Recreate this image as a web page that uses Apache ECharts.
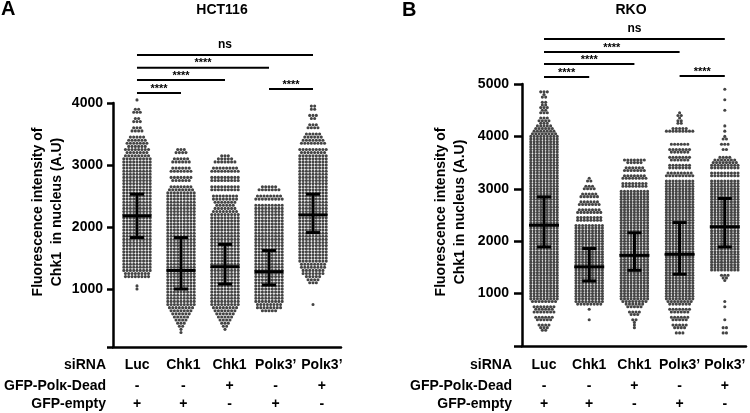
<!DOCTYPE html>
<html><head><meta charset="utf-8">
<script src="https://cdn.jsdelivr.net/npm/echarts@6/dist/echarts.min.js"></script>
<style>html,body{margin:0;padding:0;background:#fff}#c{width:750px;height:413px}</style>
</head><body><div id="c"></div>
<script>
// ---------------- DATA ----------------
const siRNA = ["Luc", "Chk1", "Chk1", "Polκ3’", "Polκ3’"];
const deadRow = ["-", "-", "+", "-", "+"];
const emptyRow = ["+", "+", "-", "+", "-"];
const rowHeaders = ["siRNA", "GFP-Polκ-Dead", "GFP-empty"];
const panelTitles = ["HCT116", "RKO"];
const panelLetters = ["A", "B"];
const yNameA = "Fluorescence intensity of\nChk1  in nucleus (A.U)";
const yNameB = "Fluorescence intensity of\nChk1 in nucleus (A.U)";
const hctTicks = [1000, 2000, 3000, 4000];
const rkoTicks = [1000, 2000, 3000, 4000, 5000];

// beeswarm rows: number of cells per 50-unit row, from the top row downwards
const binStep = 50;
const hctTopRow = 4050;   // rows 4050 ... 300
const rkoTopRow = 4900;   // rows 4900 ... 250

const hctLuc = [1,0,0,2,3,0,2,3,0,3, 4,0,5,6,7,6,8,7,8,9, 9,9,9,9,9,9,9,9,9,9, 9,9,9,9,9,9,9,9,9,9, 9,9,9,9,9,9,9,9,9,9, 9,9,9,9,9,9,8,8,0,0, 1,1,0,0,0,0,0,0,0,0, 0,0,0,0,0,0];
const hctChk1 = [0,0,0,0,0,0,0,0,0,0, 0,0,0,0,0,0,3,4,0,5, 6,0,6,7,0,7,6,0,7,8, 9,9,9,9,9,9,9,9,9,9, 9,9,9,9,9,9,9,9,9,9, 9,9,9,9,9,9,9,9,9,9, 9,9,9,9,9,9,9,8,7,6, 5,4,3,2,1,1];
const hctChk1Dead = [0,0,0,0,0,0,0,0,0,0, 0,0,0,0,0,0,0,0,3,5, 7,0,8,9,0,9,9,0,9,9, 0,8,8,7,6,7,8,9,9,9, 9,9,9,9,9,9,9,9,9,9, 9,9,9,9,9,9,9,9,9,9, 9,9,9,9,9,9,9,8,7,6, 5,4,3,2,1,0];
const hctPol = [0,0,0,0,0,0,0,0,0,0, 0,0,0,0,0,0,0,0,0,0, 0,0,0,0,0,0,0,0,5,7, 0,8,9,0,9,9,9,9,9,9, 9,9,9,9,9,9,9,9,9,9, 9,9,9,9,9,9,9,9,9,9, 9,9,9,9,9,9,8,8,5,0, 0,0,0,0,0,0];
const hctPolDead = [0,0,2,2,0,3,2,0,3,4, 0,5,6,7,8,0,9,8,9,9, 9,9,9,9,9,9,9,9,9,9, 9,9,9,9,9,9,9,9,9,9, 9,9,9,9,9,9,9,9,9,9, 9,9,9,8,8,7,7,5,4,3, 0,0,0,0,0,0,1,0,0,0, 0,0,0,0,0,0];

const rkoLuc = [0,3,1,2,0,2,2,3,2,3, 0,3,4,3,5,6,7,8,9,9, 9,9,9,9,9,9,9,9,9,9, 9,9,9,9,9,9,9,9,9,9, 9,9,9,9,9,9,9,9,9,9, 9,9,9,9,9,9,9,9,9,9, 9,9,9,9,9,9,9,9,9,9, 9,9,9,9,9,9,9,9,9,9, 9,8,0,7,6,7,0,6,5,0, 4,3,2,0];
const rkoChk1 = [0,0,0,0,0,0,0,0,0,0, 0,0,0,0,0,0,0,0,0,0, 0,0,0,0,0,0,0,0,0,0, 0,0,0,0,1,2,0,3,4,0, 5,6,0,6,7,0,7,8,0,8, 8,0,9,9,9,9,9,9,9,9, 9,9,9,9,9,9,9,9,9,9, 9,9,9,9,9,9,9,9,9,9, 9,9,8,0,1,0,0,0,1,0, 0,0,0,0];
const rkoChk1Dead = [0,0,0,0,0,0,0,0,0,0, 0,0,0,0,0,0,0,0,0,0, 0,0,0,0,0,0,0,7,5,0, 6,7,0,7,8,0,8,8,0,9, 9,9,9,9,9,9,9,9,9,9, 9,9,9,9,9,9,9,9,9,9, 9,9,9,9,9,9,9,9,9,9, 9,9,9,9,9,9,9,9,9,9, 9,8,6,5,0,4,3,0,2,1, 1,1,0,0];
const rkoPol = [0,0,0,0,0,0,0,0,0,1, 2,1,2,2,0,5,9,0,0,0, 0,6,0,7,6,0,7,6,0,7, 7,0,8,9,0,9,9,9,9,9, 9,9,9,9,9,9,9,9,9,9, 9,9,9,9,9,9,9,9,9,9, 9,9,9,9,9,9,9,9,9,9, 9,9,9,9,9,9,9,9,9,9, 9,8,7,0,7,6,0,6,5,0, 5,4,0,3];
const rkoPolDead = [1,0,0,0,1,0,0,0,1,0, 0,0,0,0,1,0,1,0,1,2, 0,3,0,2,0,0,4,7,8,9, 9,0,9,9,0,9,9,9,9,9, 9,9,9,9,9,9,9,9,9,9, 9,9,9,9,9,9,9,9,9,9, 9,9,9,9,9,9,9,9,9,9, 0,3,2,1,0,0,0,0,0,0, 0,1,0,1,0,0,0,0,1,0, 0,2,0,2];

// mean and SD range per group
const hctMean = [2180, 1300, 1360, 1280, 2195];
const hctSdHigh = [2530, 1830, 1720, 1620, 2530];
const hctSdLow = [1830, 1000, 1080, 1065, 1910];
const rkoMean = [2305, 1510, 1730, 1750, 2275];
const rkoSdHigh = [2845, 1860, 2160, 2355, 2815];
const rkoSdLow = [1890, 1240, 1445, 1370, 1890];

// significance comparisons [from group, to group, label]
const comparisons = [[0,1,"****"],[0,2,"****"],[0,3,"****"],[0,4,"ns"],[3,4,"****"]];

// ---------------- LAYOUT / STYLE ----------------
const FONT = '"Liberation Sans", Arial, Helvetica, sans-serif';
const DOT_GAP = 3.3, DOT_R = 1.55, DOT_COLOR = '#444444';
const layoutA = {grid:{left:113, top:103, width:228, height:244}, xMin:-0.545, xMax:4.636,
  bracketY:[93,80,67.7,55,89], labelGrid:{left:114, width:231}, headerX:106, tickLen:6, labelMargin:10,
  yMin:65, yMax:4000, meanHalf:14.5, capHalf:7, yNamePos:[48,212], yName:yNameA,
  titlePos:[222,10], letterPos:[1,9]};
const layoutB = {grid:{left:522, top:84, width:224, height:262}, xMin:-0.487, xMax:4.469,
  bracketY:[77,64,52,39,76], labelGrid:{left:521.4, width:226}, headerX:512, tickLen:8, labelMargin:13,
  yMin:0, yMax:5000, meanHalf:15, capHalf:7, yNamePos:[451,212], yName:yNameB,
  titlePos:[631,10], letterPos:[402,10]};

function expand(groupCounts, top) {
  const out = [];
  groupCounts.forEach((counts, g) => {
    counts.forEach((n, i) => {
      const level = top - i * binStep;
      for (let s = 0; s < n; s++) out.push([g, level, s, n]);
    });
  });
  return out;
}
function swarmItem(params, api) {
  const p = api.coord([api.value(0), api.value(1)]);
  const s = api.value(2), n = api.value(3);
  return {type:'circle', shape:{cx:p[0] + (s - (n - 1) / 2) * DOT_GAP, cy:p[1], r:DOT_R},
    style:{fill:DOT_COLOR}};
}
function makeErr(L) {
  return function(params, api) {
    const g = api.value(0);
    const m = api.coord([g, api.value(1)]);
    const hi = api.coord([g, api.value(2)]);
    const lo = api.coord([g, api.value(3)]);
    const st = {stroke:'#000', lineWidth:3};
    return {type:'group', children:[
      {type:'line', shape:{x1:m[0], y1:hi[1], x2:m[0], y2:lo[1]}, style:st},
      {type:'line', shape:{x1:m[0]-L.capHalf, y1:hi[1], x2:m[0]+L.capHalf, y2:hi[1]}, style:st},
      {type:'line', shape:{x1:m[0]-L.capHalf, y1:lo[1], x2:m[0]+L.capHalf, y2:lo[1]}, style:st},
      {type:'line', shape:{x1:m[0]-L.meanHalf, y1:m[1], x2:m[0]+L.meanHalf, y2:m[1]}, style:st}
    ]};
  };
}
function makeBracket(L) {
  return function(params, api) {
    const a = api.coord([api.value(0), L.yMax]);
    const b = api.coord([api.value(1), L.yMax]);
    const y = L.bracketY[params.dataIndex];
    const label = comparisons[params.dataIndex][2];
    const isNs = label === 'ns';
    return {type:'group', children:[
      {type:'line', shape:{x1:a[0], y1:y, x2:b[0], y2:y}, style:{stroke:'#000', lineWidth:2}},
      {type:'text', x:(a[0]+b[0])/2, y: isNs ? y - 4 : y + 1,
        style:{text:label, fill:'#000', font:'bold ' + (isNs ? 12 : 11) + 'px ' + FONT,
          textAlign:'center', align:'center', textVerticalAlign:'bottom', verticalAlign:'bottom'}}
    ]};
  };
}

const chart = echarts.init(document.getElementById('c'), null, {renderer:'canvas'});
const grids = [], xAxes = [], yAxes = [], series = [], graphics = [];

function addPanel(L, pi, groupCounts, top, mean, hi, lo, ticks) {
  const gIdx = grids.length;
  grids.push(Object.assign({containLabel:false}, L.grid));
  const xi = xAxes.length, yi = yAxes.length;
  xAxes.push({type:'value', gridIndex:gIdx, min:L.xMin, max:L.xMax, axisLine:{show:true, onZero:false, lineStyle:{color:'#000', width:2.5}},
    axisTick:{show:false}, axisLabel:{show:false}, splitLine:{show:false}});
  yAxes.push({type:'value', gridIndex:gIdx, min:L.yMin, max:L.yMax,
    axisLine:{show:true, onZero:false, lineStyle:{color:'#000', width:2.5}},
    axisTick:{show:true, length:L.tickLen, lineStyle:{color:'#000', width:2.5}, customValues:[L.yMin].concat(ticks)},
    axisLabel:{show:true, customValues:ticks, formatter:v => String(v), margin:L.labelMargin, color:'#000', fontSize:14, fontWeight:'bold', fontFamily:FONT},
    splitLine:{show:false}});
  series.push({type:'custom', xAxisIndex:xi, yAxisIndex:yi, renderItem:swarmItem, progressive:0, animation:false,
    data:expand(groupCounts, top), z:2});
  series.push({type:'custom', xAxisIndex:xi, yAxisIndex:yi, renderItem:makeErr(L), animation:false,
    data:mean.map((m, g) => [g, m, hi[g], lo[g]]), z:5});
  series.push({type:'custom', xAxisIndex:xi, yAxisIndex:yi, renderItem:makeBracket(L), animation:false, clip:false,
    data:comparisons.map(c => [c[0], c[1]]), z:5});

  // label table grid
  const lg = grids.length;
  grids.push({left:L.labelGrid.left, width:L.labelGrid.width, top:300, height:52});
  yAxes.push({type:'value', gridIndex:lg, show:false});
  [siRNA, deadRow, emptyRow].forEach((row, r) => {
    xAxes.push({type:'category', gridIndex:lg, data:row, position:'bottom', offset:[0,21,39][r],
      axisLine:{show:false}, axisTick:{show:false}, splitLine:{show:false},
      axisLabel:{interval:0, margin:6, color:'#000', fontSize:14, fontWeight:'bold', fontFamily:FONT}});
  });
  rowHeaders.forEach((t, r) => {
    graphics.push({type:'text', x:L.headerX, y:[365,386,404][r], style:{text:t, fill:'#000',
      font:'bold 14px ' + FONT, textAlign:'right', align:'right', textVerticalAlign:'middle', verticalAlign:'middle'}});
  });
  graphics.push({type:'text', x:L.yNamePos[0], y:L.yNamePos[1], rotation:Math.PI/2,
    style:{text:L.yName, fill:'#000', font:'bold 14px ' + FONT, lineHeight:19,
      textAlign:'center', align:'center', textVerticalAlign:'middle', verticalAlign:'middle'}});
  graphics.push({type:'text', x:L.titlePos[0], y:L.titlePos[1], style:{text:panelTitles[pi], fill:'#000',
    font:'bold 14px ' + FONT, textAlign:'center', align:'center', textVerticalAlign:'middle', verticalAlign:'middle'}});
  graphics.push({type:'text', x:L.letterPos[0], y:L.letterPos[1], style:{text:panelLetters[pi], fill:'#000',
    font:'bold 20px ' + FONT, textAlign:'left', align:'left', textVerticalAlign:'middle', verticalAlign:'middle'}});
}

addPanel(layoutA, 0, [hctLuc, hctChk1, hctChk1Dead, hctPol, hctPolDead], hctTopRow, hctMean, hctSdHigh, hctSdLow, hctTicks);
addPanel(layoutB, 1, [rkoLuc, rkoChk1, rkoChk1Dead, rkoPol, rkoPolDead], rkoTopRow, rkoMean, rkoSdHigh, rkoSdLow, rkoTicks);

chart.setOption({animation:false, backgroundColor:'#fff', grid:grids, xAxis:xAxes, yAxis:yAxes, series:series,
  graphic:{elements:graphics}});
</script>
</body></html>
